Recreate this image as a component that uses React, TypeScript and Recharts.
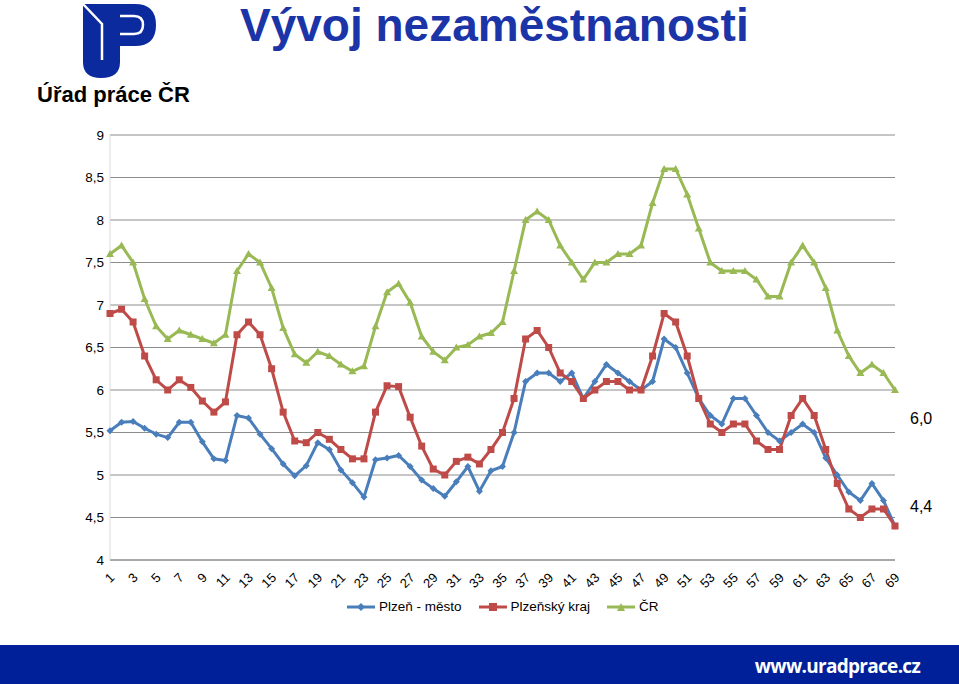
import { LineChart, Line, XAxis, YAxis, CartesianGrid } from "recharts";

// months 1..69
const periods = Array.from({ length: 69 }, (_, i) => String(i + 1));

const plzenMesto = [
  5.52, 5.62, 5.63, 5.55, 5.48, 5.44, 5.62, 5.62, 5.39, 5.19,
  5.17, 5.7, 5.67, 5.48, 5.31, 5.13, 4.99, 5.11, 5.38, 5.3,
  5.06, 4.91, 4.74, 5.18, 5.2, 5.23, 5.1, 4.94, 4.84, 4.75,
  4.92, 5.1, 4.81, 5.05, 5.1, 5.5, 6.1, 6.2, 6.2, 6.1,
  6.2, 5.9, 6.1, 6.3, 6.2, 6.1, 6.0, 6.1, 6.6, 6.5,
  6.2, 5.9, 5.7, 5.6, 5.9, 5.9, 5.7, 5.5, 5.4, 5.5,
  5.6, 5.5, 5.2, 5.0, 4.8, 4.7, 4.9, 4.7, 4.4,
];

const plzenskyKraj = [
  6.9, 6.95, 6.8, 6.4, 6.12, 6.0, 6.12, 6.03, 5.87, 5.74,
  5.86, 6.65, 6.8, 6.65, 6.25, 5.74, 5.4, 5.38, 5.5, 5.42,
  5.3, 5.19, 5.19, 5.74, 6.05, 6.04, 5.68, 5.34, 5.07, 5.0,
  5.16, 5.21, 5.13, 5.3, 5.5, 5.9, 6.6, 6.7, 6.5, 6.2,
  6.1, 5.9, 6.0, 6.1, 6.1, 6.0, 6.0, 6.4, 6.9, 6.8,
  6.4, 5.9, 5.6, 5.5, 5.6, 5.6, 5.4, 5.3, 5.3, 5.7,
  5.9, 5.7, 5.3, 4.9, 4.6, 4.5, 4.6, 4.6, 4.4,
];

const cr = [
  7.6, 7.7, 7.5, 7.07, 6.75, 6.6, 6.7, 6.65, 6.6, 6.55,
  6.65, 7.4, 7.6, 7.5, 7.2, 6.73, 6.42, 6.32, 6.45, 6.4,
  6.3, 6.22, 6.28, 6.75, 7.15, 7.25, 7.03, 6.63, 6.45, 6.35,
  6.5, 6.53, 6.63, 6.67, 6.8, 7.4, 8.0, 8.1, 8.0, 7.7,
  7.5, 7.3, 7.5, 7.5, 7.6, 7.6, 7.7, 8.2, 8.6, 8.6,
  8.3, 7.9, 7.5, 7.4, 7.4, 7.4, 7.3, 7.1, 7.1, 7.5,
  7.7, 7.5, 7.2, 6.7, 6.4, 6.2, 6.3, 6.2, 6.0,
];

const yTicks = [4, 4.5, 5, 5.5, 6, 6.5, 7, 7.5, 8, 8.5, 9];

const data = periods.map((p, i) => ({
  period: p,
  mesto: plzenMesto[i],
  kraj: plzenskyKraj[i],
  cr: cr[i],
}));

const BLUE = "#4a7ebb";
const RED = "#be4b48";
const GREEN = "#98b954";
const FONT = "'Liberation Sans', Arial, sans-serif";

const fmt = (v: number) => String(v).replace(".", ",");

const Diamond = (props: any) => {
  const { cx, cy, fill } = props;
  if (cx == null || cy == null) return null;
  const r = 3.5;
  return (
    <path
      d={`M${cx},${cy - r} L${cx + r},${cy} L${cx},${cy + r} L${cx - r},${cy} Z`}
      fill={fill}
    />
  );
};

const Square = (props: any) => {
  const { cx, cy, fill } = props;
  if (cx == null || cy == null) return null;
  return <rect x={cx - 3.5} y={cy - 3.5} width={7} height={7} fill={fill} />;
};

const Triangle = (props: any) => {
  const { cx, cy, fill } = props;
  if (cx == null || cy == null) return null;
  return (
    <path
      d={`M${cx},${cy - 4} L${cx + 4},${cy + 3} L${cx - 4},${cy + 3} Z`}
      fill={fill}
    />
  );
};

const XTick = (props: any) => {
  const { x, y, payload } = props;
  const tx = x + 3;
  const ty = y + 8;
  return (
    <text
      x={tx}
      y={ty}
      transform={`rotate(-45 ${tx} ${ty})`}
      textAnchor="end"
      dominantBaseline="middle"
      fontFamily={FONT}
      fontSize={13}
      fill="#000"
    >
      {payload.value}
    </text>
  );
};

function Logo() {
  return (
    <svg
      width={80}
      height={80}
      viewBox="0 0 80 80"
      style={{ position: "absolute", left: 80, top: 2 }}
    >
      {/* P bowl */}
      <path
        d="M3,2 L55,2 Q76,2 76,23 Q76,44 55,44 L40,44 L40,2 Z"
        fill="#0b2a9e"
      />
      <path
        d="M40,14 L54,14 Q63,14 63,23 Q63,32 54,32 L40,32"
        fill="none"
        stroke="#fff"
        strokeWidth={2.5}
      />
      {/* U stem */}
      <path
        d="M3,2 L40,2 L40,60 Q40,76 21,76 Q3,76 3,60 Z"
        fill="#0b2a9e"
      />
      <path
        d="M3,2 L22,22 L22,58"
        fill="none"
        stroke="#fff"
        strokeWidth={2.5}
      />
    </svg>
  );
}

export default function App() {
  const legendItems = [
    { name: "Plzeň - město", color: BLUE, marker: "d" },
    { name: "Plzeňský kraj", color: RED, marker: "s" },
    { name: "ČR", color: GREEN, marker: "t" },
  ];

  return (
    <div
      style={{
        position: "absolute",
        left: 0,
        top: 0,
        width: 959,
        height: 684,
        background: "#fff",
        overflow: "hidden",
        fontFamily: FONT,
      }}
    >
      <Logo />
      <div
        style={{
          position: "absolute",
          left: 37,
          top: 82,
          fontSize: 22,
          fontWeight: 700,
          color: "#000",
          whiteSpace: "nowrap",
        }}
      >
        Úřad práce ČR
      </div>
      <div
        style={{
          position: "absolute",
          left: 240,
          top: -3,
          fontSize: 46,
          lineHeight: "56px",
          fontWeight: 700,
          color: "#1b35a8",
          whiteSpace: "nowrap",
        }}
      >
        Vývoj nezaměstnanosti
      </div>

      <div style={{ position: "absolute", left: 0, top: 0 }}>
        <LineChart
          width={959}
          height={684}
          data={data}
          margin={{ top: 135, right: 64, bottom: 84, left: 50 }}
        >
          <CartesianGrid
            vertical={false}
            stroke="#8c8c8c"
            strokeWidth={1}
          />
          <XAxis
            dataKey="period"
            interval={1}
            tickLine={false}
            axisLine={{ stroke: "#8c8c8c" }}
            tick={<XTick />}
            height={40}
          />
          <YAxis
            domain={[4, 9]}
            ticks={yTicks}
            tickFormatter={fmt}
            tickLine={false}
            axisLine={{ stroke: "#d9d9d9" }}
            width={60}
            tick={{ fontFamily: FONT, fontSize: 13.5, fill: "#000" }}
            tickMargin={0}
          />
          <Line
            dataKey="mesto"
            stroke={BLUE}
            strokeWidth={3}
            dot={<Diamond fill={BLUE} />}
            isAnimationActive={false}
          />
          <Line
            dataKey="kraj"
            stroke={RED}
            strokeWidth={3}
            dot={<Square fill={RED} />}
            isAnimationActive={false}
          />
          <Line
            dataKey="cr"
            stroke={GREEN}
            strokeWidth={3}
            dot={<Triangle fill={GREEN} />}
            isAnimationActive={false}
          />
        </LineChart>
      </div>

      <div
        style={{
          position: "absolute",
          left: 910,
          top: 410,
          fontSize: 16,
          color: "#000",
        }}
      >
        6,0
      </div>
      <div
        style={{
          position: "absolute",
          left: 910,
          top: 498,
          fontSize: 16,
          color: "#000",
        }}
      >
        4,4
      </div>

      <div
        style={{
          position: "absolute",
          left: 346,
          top: 599,
          display: "flex",
          alignItems: "center",
          fontSize: 13.5,
          color: "#000",
          whiteSpace: "nowrap",
        }}
      >
        {legendItems.map((it) => (
          <div
            key={it.name}
            style={{ display: "flex", alignItems: "center", marginRight: 16 }}
          >
            <svg width={30} height={14} style={{ marginRight: 3 }}>
              <line x1={1} y1={7} x2={29} y2={7} stroke={it.color} strokeWidth={3} />
              {it.marker === "d" && (
                <path d="M15,3 L19,7 L15,11 L11,7 Z" fill={it.color} />
              )}
              {it.marker === "s" && (
                <rect x={11} y={3} width={8} height={8} fill={it.color} />
              )}
              {it.marker === "t" && (
                <path d="M15,3 L19,11 L11,11 Z" fill={it.color} />
              )}
            </svg>
            <span>{it.name}</span>
          </div>
        ))}
      </div>

      <div
        style={{
          position: "absolute",
          left: 0,
          top: 645,
          width: 959,
          height: 39,
          background: "#00209a",
        }}
      >
        <div
          style={{
            position: "absolute",
            right: 39,
            top: 8,
            fontSize: 19,
            fontWeight: 700,
            color: "#fff",
            fontFamily: "'Open Sans', sans-serif",
            letterSpacing: -0.7,
          }}
        >
          www.uradprace.cz
        </div>
      </div>
    </div>
  );
}
